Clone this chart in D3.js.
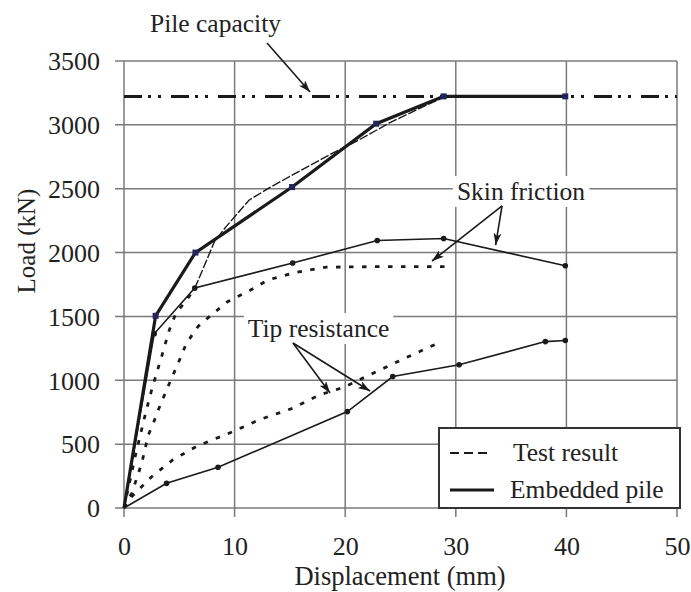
<!DOCTYPE html>
<html><head><meta charset="utf-8">
<script src="https://cdn.jsdelivr.net/npm/d3@7/dist/d3.min.js"></script>
<style>
html,body{margin:0;padding:0;background:#fff;}
svg{display:block;}
text{font-family:"Liberation Serif","Times New Roman",serif;fill:#222;}
</style></head>
<body>
<svg id="c" width="691" height="592"></svg>
<script>
// ---- data ----
const xTicks = [0, 10, 20, 30, 40, 50];
const yTicks = [0, 500, 1000, 1500, 2000, 2500, 3000, 3500];
const pileCapacity = 3223;
// Embedded pile (solid)
const totalEmbedded = [[0,0],[2.86,1505],[6.46,2000],[15.2,2513],[22.8,3009],[28.9,3223],[39.9,3223]];
const skinEmbedded  = [[0,0],[2.73,1364],[6.4,1722],[15.25,1918],[22.9,2095],[28.9,2110],[39.9,1897]];
const tipEmbedded   = [[0,0],[3.85,193],[8.5,319],[20.2,755],[24.3,1029],[30.3,1121],[38.1,1303],[39.9,1311]];
// Test result (dashed)
const totalTestLow  = [[0,0],[1.0,400],[2.0,760],[2.5,925],[3.4,1186],[4.1,1395],[4.7,1526],[5.6,1620],[6.4,1720]];
const totalTestHigh = [[6.4,1720],[8.2,2090],[9.25,2205],[11.3,2410],[13.2,2510],[15.9,2640],[18.9,2780],[21,2870],[24,3015],[26.5,3120],[29,3220]];
const skinTest      = [[0,0],[0.7,115],[1.6,350],[2.2,572],[2.65,664],[3.1,768],[3.85,925],[4.9,1134],[5.65,1291],[6.7,1421],[7.9,1512],[9.4,1617],[11.2,1695],[13.0,1785],[15.5,1845],[18.3,1886],[23,1890],[29.1,1890]];
const tipTest       = [[0,0],[0.7,89],[2.5,245],[4.4,376],[6.5,480],[7.6,520],[9.85,598],[12.2,690],[15.25,781],[17.7,886],[19.9,946],[22.2,1042],[25.2,1165],[28.7,1303]];
// annotations (data coordinates)
const annotations = [
  {label:"Pile capacity",  tx:2.35, ty:3727, box:false, arrows:[[[12.93,3641],[16.82,3257]]]},
  {label:"Skin friction",  tx:30.1, ty:2412, box:true,  arrows:[[[34.18,2365],[27.85,1934]],[[34.18,2365],[33.6,2059]]]},
  {label:"Tip resistance", tx:11.2, ty:1339, box:true,  arrows:[[[15.28,1292],[18.63,900]],[[15.28,1292],[22.24,916]]]}
];
const legendItems = [{label:"Test result", dashed:true},{label:"Embedded pile", dashed:false}];

// ---- chart ----
const svg = d3.select("#c");
const L = 124, R = 677, T = 61, B = 508;
const x = d3.scaleLinear().domain([0,50]).range([L,R]);
const y = d3.scaleLinear().domain([0,3500]).range([B,T]);
const gridColor = "#7a7a7a";
const ink = "#1a1a1a";

// grid
svg.append("g").selectAll("line.v").data(xTicks).join("line")
  .attr("x1",d=>x(d)).attr("x2",d=>x(d)).attr("y1",T).attr("y2",B+9)
  .attr("stroke",gridColor).attr("stroke-width",1.5);
svg.append("g").selectAll("line.h").data(yTicks).join("line")
  .attr("x1",L-9).attr("x2",R).attr("y1",d=>y(d)).attr("y2",d=>y(d))
  .attr("stroke",gridColor).attr("stroke-width",1.5);

// axes labels via d3 axes
const ax = svg.append("g").attr("transform",`translate(0,${B})`)
  .call(d3.axisBottom(x).tickValues(xTicks).tickFormat(d3.format("d")).tickSize(0).tickPadding(34));
const ay = svg.append("g").attr("transform",`translate(${L},0)`)
  .call(d3.axisLeft(y).tickValues(yTicks).tickFormat(d3.format("d")).tickSize(0).tickPadding(24));
[ax,ay].forEach(g=>{
  g.attr("font-family",null);
  g.select(".domain").remove();
  g.selectAll("text").attr("font-size",26).attr("font-family","Liberation Serif").attr("fill","#222");
});
ax.selectAll("text").attr("dy",0).attr("y",555-B);
ay.selectAll("text").attr("dy","0.34em");

svg.append("text").attr("x",400).attr("y",585).attr("text-anchor","middle")
  .attr("font-size",26.5).text("Displacement (mm)");
svg.append("text").attr("transform","translate(35,241) rotate(-90)").attr("text-anchor","middle")
  .attr("font-size",25).text("Load (kN)");

// pile capacity line
svg.append("line").attr("x1",x(0)).attr("x2",x(50)).attr("y1",y(pileCapacity)).attr("y2",y(pileCapacity))
  .attr("stroke",ink).attr("stroke-width",3).attr("stroke-dasharray","18,6,3,7,3,10");

// arrow marker
const defs = svg.append("defs");
defs.append("marker").attr("id","arr").attr("viewBox","0 0 12 8").attr("refX",12).attr("refY",4)
  .attr("markerWidth",12).attr("markerHeight",8).attr("markerUnits","userSpaceOnUse").attr("orient","auto")
  .append("path").attr("d","M0,0 L12,4 L0,8 L3,4 Z").attr("fill",ink);

// annotation texts (white backgrounds covering grid)
annotations.forEach(a=>{
  const g = svg.append("g");
  const t = g.append("text").attr("x",x(a.tx)).attr("y",y(a.ty)).attr("font-size",25.5).text(a.label);
  if(a.box){
    const bb = t.node().getBBox();
    g.insert("rect","text").attr("x",bb.x-4).attr("y",bb.y-1).attr("width",bb.width+8).attr("height",bb.height+2)
      .attr("fill","#fff");
  }
});

// lines
const line = d3.line().x(d=>x(d[0])).y(d=>y(d[1]));
const dotted = "4.5,8.5";
svg.append("path").datum(totalTestLow).attr("d",line).attr("fill","none").attr("stroke",ink)
  .attr("stroke-width",2.8).attr("stroke-dasharray",dotted);
svg.append("path").datum(totalTestHigh).attr("d",line).attr("fill","none").attr("stroke",ink)
  .attr("stroke-width",1.4).attr("stroke-dasharray","9,2");
svg.append("path").datum(skinTest).attr("d",line).attr("fill","none").attr("stroke",ink)
  .attr("stroke-width",2.8).attr("stroke-dasharray",dotted);
svg.append("path").datum(tipTest).attr("d",line).attr("fill","none").attr("stroke",ink)
  .attr("stroke-width",2.8).attr("stroke-dasharray",dotted);

[skinEmbedded, tipEmbedded].forEach(s=>{
  svg.append("path").datum(s).attr("d",line).attr("fill","none").attr("stroke",ink).attr("stroke-width",1.6);
  svg.append("g").selectAll("circle").data(s.slice(1)).join("circle")
    .attr("cx",d=>x(d[0])).attr("cy",d=>y(d[1])).attr("r",2.8).attr("fill",ink);
});
svg.append("path").datum(totalEmbedded).attr("d",line).attr("fill","none").attr("stroke",ink).attr("stroke-width",3.2);
svg.append("g").selectAll("rect").data(totalEmbedded.slice(1)).join("rect")
  .attr("x",d=>x(d[0])-3).attr("y",d=>y(d[1])-3).attr("width",6).attr("height",6).attr("fill","#23235e");

// arrows
annotations.forEach(a=>{
  a.arrows.forEach(p=>{
    svg.append("line").attr("x1",x(p[0][0])).attr("y1",y(p[0][1])).attr("x2",x(p[1][0])).attr("y2",y(p[1][1]))
      .attr("stroke",ink).attr("stroke-width",1.6).attr("marker-end","url(#arr)");
  });
});

// legend
const lg = svg.append("g").attr("transform","translate(439,428)");
lg.append("rect").attr("width",241).attr("height",80).attr("fill","#fff").attr("stroke","#333").attr("stroke-width",2);
legendItems.forEach((it,i)=>{
  const yy = 25 + i*37;
  lg.append("line").attr("x1",11).attr("x2",i?55:50).attr("y1",yy).attr("y2",yy)
    .attr("stroke",ink).attr("stroke-width",i?3:2.2).attr("stroke-dasharray",it.dashed?"9,5":null);
  lg.append("text").attr("x",i?71:74).attr("y",yy+8).attr("font-size",25.5).text(it.label);
});
</script>
</body></html>
